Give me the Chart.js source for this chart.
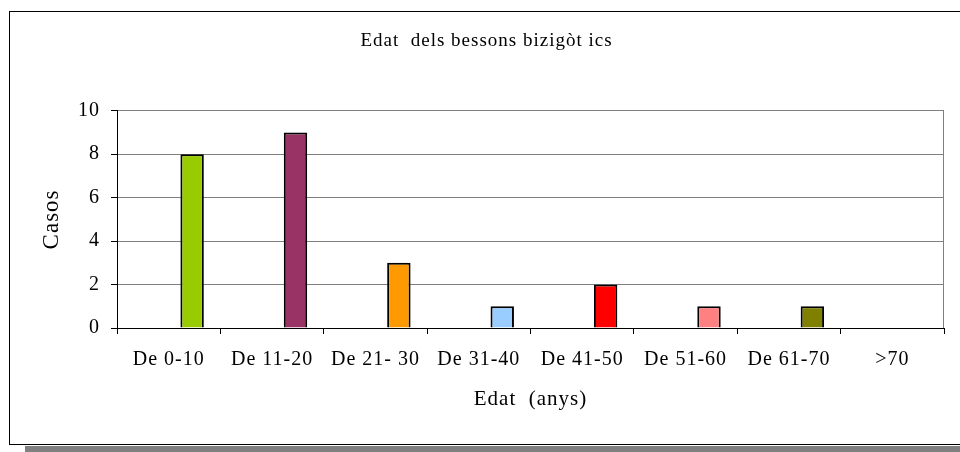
<!DOCTYPE html>
<html>
<head>
<meta charset="utf-8">
<script src="https://cdn.jsdelivr.net/npm/chart.js@4.4.1/dist/chart.umd.min.js"></script>
<style>
  html, body { margin: 0; padding: 0; background: #fff; }
  canvas { display: block; }
</style>
</head>
<body>
<canvas id="myChart" width="960" height="452"></canvas>
<script>
// Age groups and number of cases
const categories = ["De 0-10", "De 11-20", "De 21- 30", "De 31-40", "De 41-50", "De 51-60", "De 61-70", ">70"];
const cases = [8, 9, 3, 1, 2, 1, 1, 0];
const barColors = ["#99CC00", "#993366", "#FF9900", "#99CCFF", "#FF0000", "#FF8080", "#808000", "#808080"];
// the original sheet had two empty series in front of the real one
const emptySeries = [null, null, null, null, null, null, null, null];
const yTicks = [0, 2, 4, 6, 8, 10];

const fontFamily = "'Liberation Serif', 'Times New Roman', serif";

// Outer frame with shadow, plot border on the right, and wider letter spacing
const framePlugin = {
  id: "frame",
  afterLayout(chart) {
    // title sits a bit right of the plot centre in the original
    if (chart.titleBlock) {
      chart.titleBlock.left += 20;
    }
  },
  beforeDraw(chart) {
    const ctx = chart.ctx;
    ctx.save();
    ctx.fillStyle = "#fff";
    ctx.fillRect(0, 0, chart.width, chart.height);
    // shadow
    ctx.fillStyle = "#808080";
    ctx.fillRect(25, 446, chart.width - 25, 6);
    // frame
    ctx.strokeStyle = "#000";
    ctx.lineWidth = 1;
    ctx.strokeRect(9.5, 11.5, chart.width, 433);
    ctx.restore();
    ctx.letterSpacing = "1px";
  },
  afterDatasetsDraw(chart) {
    const ctx = chart.ctx;
    const area = chart.chartArea;
    ctx.save();
    ctx.strokeStyle = "#808080";
    ctx.lineWidth = 1;
    ctx.beginPath();
    ctx.moveTo(Math.round(area.right) - 0.5, area.top);
    ctx.lineTo(Math.round(area.right) - 0.5, area.bottom);
    ctx.stroke();
    ctx.restore();
  },
};

const canvas = document.getElementById("myChart").getContext("2d");

const myChart = new Chart(canvas, {
  type: "bar",
  data: {
    labels: categories,
    datasets: [
      { label: "s1", data: emptySeries },
      { label: "s2", data: emptySeries },
      {
        label: "Casos",
        data: cases,
        backgroundColor: barColors,
        borderColor: "#000",
        borderWidth: 2,
      },
    ],
  },
  options: {
    responsive: false,
    animation: false,
    categoryPercentage: 0.68,
    barPercentage: 1.0,
    layout: {
      padding: { left: 9, top: 11, right: 16, bottom: 7 },
    },
    plugins: {
      legend: { display: false },
      tooltip: { enabled: false },
      title: {
        display: true,
        text: "Edat  dels bessons bizigòt ics",
        color: "#000",
        font: { family: fontFamily, size: 19, weight: "normal" },
        padding: { top: 19, bottom: 58 },
      },
    },
    scales: {
      x: {
        grid: {
          drawOnChartArea: false,
          drawTicks: true,
          tickLength: 6,
          tickColor: "#000",
        },
        border: { color: "#000", width: 1 },
        ticks: {
          color: "#000",
          font: { family: fontFamily, size: 20 },
          padding: 14,
          maxRotation: 0,
          autoSkip: false,
        },
        title: {
          display: true,
          text: "Edat  (anys)",
          color: "#000",
          font: { family: fontFamily, size: 21 },
          padding: { top: 0, bottom: 33 },
        },
        afterFit(scale) {
          scale.height = 117;
        },
      },
      y: {
        min: 0,
        max: 10,
        afterBuildTicks(scale) {
          scale.ticks = yTicks.map((v) => ({ value: v }));
        },
        grid: {
          color: "#808080",
          tickColor: "#000",
          tickLength: 6,
        },
        border: { color: "#000", width: 1 },
        ticks: {
          color: "#000",
          font: { family: fontFamily, size: 20 },
          padding: 11,
        },
        title: {
          display: true,
          text: "Casos",
          color: "#000",
          font: { family: fontFamily, size: 23 },
          padding: { top: 29, bottom: 0 },
        },
        afterFit(scale) {
          scale.width = 108;
        },
      },
    },
  },
  plugins: [framePlugin],
});
</script>
</body>
</html>
